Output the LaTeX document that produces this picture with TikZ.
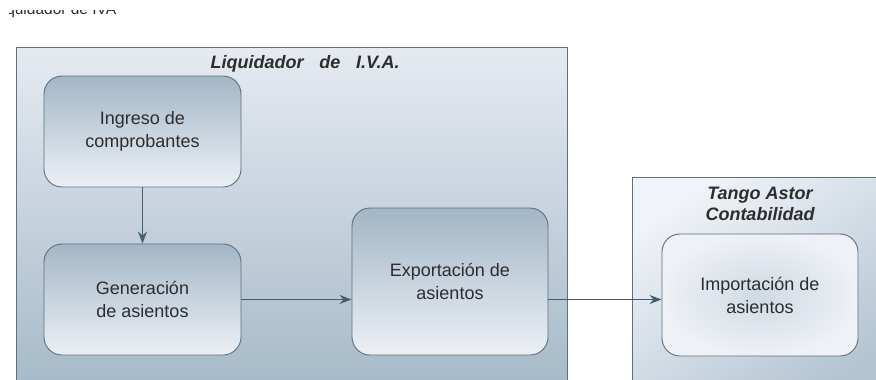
\documentclass[tikz,border=0pt]{standalone}
\usepackage{fontspec}
\setmainfont{Liberation Sans}
\usepackage{tikz}
\usetikzlibrary{arrows.meta}
\definecolor{IvaFrame}{RGB}{92,112,128}
\definecolor{IvaLine}{RGB}{70,94,110}
\definecolor{IvaText}{RGB}{45,45,45}
\definecolor{IvaOuterTop}{RGB}{230,234,241}
\definecolor{IvaOuterBot}{RGB}{165,185,200}
\definecolor{IvaBoxTop}{RGB}{163,182,198}
\definecolor{IvaBoxBot}{RGB}{236,240,245}
\definecolor{TangoIn}{RGB}{240,243,247}
\definecolor{TangoOut}{RGB}{180,196,210}
\definecolor{ImpIn}{RGB}{208,218,227}
\definecolor{ImpOut}{RGB}{238,241,246}

\begin{document}
\begin{tikzpicture}[x=1pt,y=-1pt,
  area/.style n args={2}{draw=IvaFrame,line width=1pt,rectangle,anchor=north west,minimum width=#1pt,minimum height=#2pt},
  box/.style n args={2}{draw=IvaFrame,line width=0.9pt,rounded corners=18pt,rectangle,minimum width=#1pt,minimum height=#2pt,align=center,text=IvaText,font=\fontsize{18}{23}\selectfont},
  ttl/.style={align=center,text=IvaText,font=\fontsize{18}{21}\selectfont\bfseries\itshape},
  flow/.style={draw=IvaLine,line width=1.2pt,-{Stealth[length=12pt,width=9pt]}}]
\useasboundingbox (0,0) rectangle (876,380);
\clip (0,0) rectangle (876,380);
\begin{scope}
\clip (9,10) rectangle (140,24);
\node[anchor=base west,inner sep=0pt,text=IvaText,font=\fontsize{15.5}{17}\selectfont] (cap) at (-6,14.7) {Liquidador de IVA};
\end{scope}
% areas
\node[area={551}{345},top color=IvaOuterTop,bottom color=IvaOuterBot] (liq) at (16,47) {};
\node[area={260}{220},top color=TangoIn,bottom color=TangoOut,shading angle=35] (tango) at (632,177) {};
\node[ttl] (liqt) at (305,64) {Liquidador\hspace{0.6em} de\hspace{0.6em} I.V.A.};
\node[ttl] (tangot) at (760,204) {Tango Astor\\Contabilidad};
% steps
\node[box={197}{111},top color=IvaBoxTop,bottom color=IvaBoxBot] (ingreso) at (142.5,131.5) {Ingreso de\\comprobantes};
\node[box={197}{111},top color=IvaBoxTop,bottom color=IvaBoxBot] (generacion) at (142.5,299.5) {Generación\\de asientos};
\node[box={196}{147},top color=IvaBoxTop,bottom color=IvaBoxBot] (export) at (450,281.5) {Exportación de\\asientos};
\node[box={196}{122},inner color=ImpIn,outer color=ImpOut] (import) at (760,295) {Importación de\\asientos};
\draw[flow] (ingreso) -- (generacion);
\draw[flow] (generacion.east) -- (generacion.east -| export.west);
\draw[flow] (generacion.east -| export.east) -- (generacion.east -| import.west);
\end{tikzpicture}
\end{document}
